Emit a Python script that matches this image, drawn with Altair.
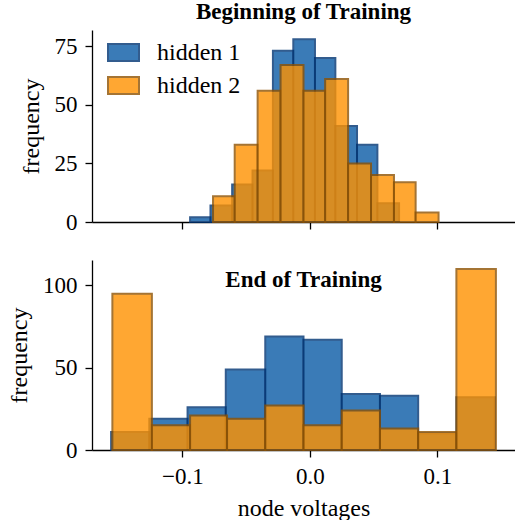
import altair as alt
import pandas as pd

# ---- data (bin edges and counts) ----
series_names = ["hidden 1", "hidden 2"]

begin_h1_edges = [-0.094, -0.078, -0.061, -0.045, -0.029, -0.013, 0.004, 0.020, 0.037, 0.053, 0.070]
begin_h1_counts = [2, 7, 16, 22, 73, 78, 70, 41, 33, 8]
begin_h2_edges = [-0.076, -0.059, -0.041, -0.023, -0.005, 0.012, 0.030, 0.048, 0.066, 0.083, 0.101]
begin_h2_counts = [11, 33, 56, 67, 56, 61, 25, 20, 17, 4]

end_h1_edges = [-0.156, -0.126, -0.096, -0.066, -0.035, -0.005, 0.025, 0.055, 0.085, 0.115, 0.145]
end_h1_counts = [11, 19, 26, 49, 69, 67, 34, 33, 10, 32]
end_h2_edges = [-0.155, -0.124, -0.094, -0.065, -0.035, -0.005, 0.025, 0.055, 0.085, 0.115, 0.146]
end_h2_counts = [95, 15, 21, 19, 27, 15, 24, 13, 11, 110]

x_ticks = [-0.1, 0.0, 0.1]
begin_y_ticks = [0, 25, 50, 75]
end_y_ticks = [0, 50, 100]


def make_df(e1, c1, e2, c2):
    rows = []
    for name, e, c in [(series_names[0], e1, c1), (series_names[1], e2, c2)]:
        for i, n in enumerate(c):
            rows.append({"series": name, "lo": e[i], "hi": e[i + 1], "count": n})
    return pd.DataFrame(rows)


FONT = "Liberation Serif"
LFS = 23   # tick labels
TFS = 24   # axis titles / legend
fill_range = ["#095ba6", "#ff9200"]
stroke_range = ["#003473", "#8e5202"]
x_scale = alt.Scale(domain=[-0.171, 0.161], nice=False, zero=False)


def panel(df, ymax, yticks, bottom, title, title_offset, height):
    x_axis_kwargs = dict(values=x_ticks, format=".1f",
                         labelExpr="replace(datum.label, '-', '\u2212')")
    if bottom:
        x_axis = alt.Axis(title="node voltages", labelPadding=8, titlePadding=8, **x_axis_kwargs)
    else:
        x_axis = alt.Axis(labels=False, title=None, **x_axis_kwargs)

    if bottom:
        fill = alt.Fill("series:N", scale=alt.Scale(domain=series_names, range=fill_range), legend=None)
        stroke = alt.Stroke("series:N", scale=alt.Scale(domain=series_names, range=stroke_range), legend=None)
    else:
        leg = alt.Legend(
            title=None, orient="none", legendX=15, legendY=6, padding=0,
            symbolType="M-1,-0.55H1V0.55H-1Z", symbolSize=961,
            symbolStrokeWidth=2, symbolOpacity=0.8,
            labelFont=FONT, labelFontSize=TFS, labelColor="black",
            labelOffset=17, rowPadding=3,
        )
        fill = alt.Fill("series:N", scale=alt.Scale(domain=series_names, range=fill_range), legend=leg)
        stroke = alt.Stroke("series:N", scale=alt.Scale(domain=series_names, range=stroke_range), legend=leg)

    return alt.Chart(df, title=alt.TitleParams(
        title, font=FONT, fontSize=23, fontWeight="bold", anchor="middle",
        color="black", offset=title_offset,
    )).mark_bar(opacity=0.8, strokeWidth=2).encode(
        x=alt.X("lo:Q", scale=x_scale, axis=x_axis),
        x2="hi:Q",
        y=alt.Y("count:Q", scale=alt.Scale(domain=[0, ymax], nice=False),
                axis=alt.Axis(values=yticks, title="frequency", titlePadding=11)),
        y2=alt.datum(0),
        fill=fill,
        stroke=stroke,
    ).properties(width=423, height=height)


top = panel(make_df(begin_h1_edges, begin_h1_counts, begin_h2_edges, begin_h2_counts),
            81.9, begin_y_ticks, False, "Beginning of Training", 6.5, 192)
bot = panel(make_df(end_h1_edges, end_h1_counts, end_h2_edges, end_h2_counts),
            115.5, end_y_ticks, True, "End of Training", -31.5, 190)

chart = alt.vconcat(top, bot, spacing=26).resolve_scale(
    fill="independent", stroke="independent"
).resolve_legend(
    fill="independent", stroke="independent"
).configure_view(strokeWidth=0).configure_axis(
    labelFont=FONT, labelFontSize=LFS, labelColor="black",
    titleFont=FONT, titleFontSize=TFS, titleFontWeight="normal", titleColor="black",
    domainColor="black", tickColor="black", domainWidth=1.3, tickWidth=1.3,
    tickSize=7, labelPadding=8, grid=False,
).properties(padding={"left": 7, "top": 0, "right": 0, "bottom": 0})

chart.save("out.html", embed_options={"renderer": "svg", "actions": False})
